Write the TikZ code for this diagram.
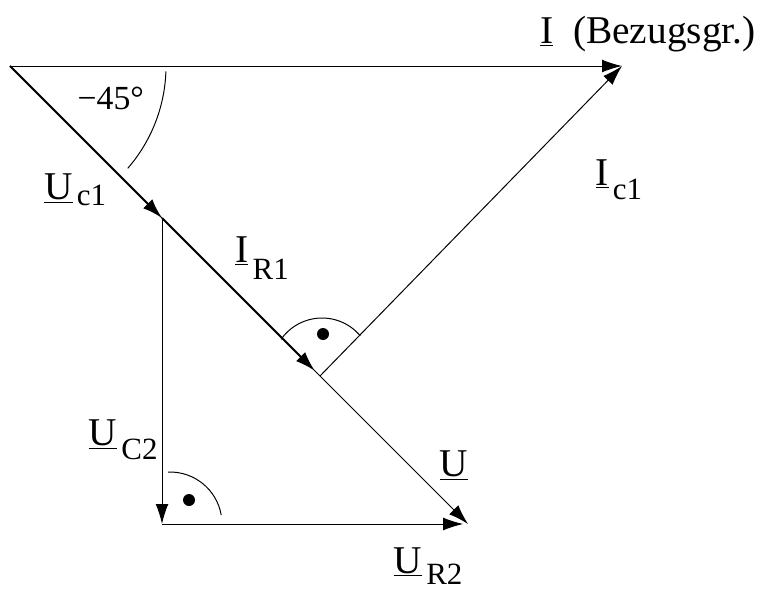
\documentclass[tikz,border=0pt]{standalone}
\usepackage{fontspec}
\setmainfont{Liberation Serif}
\usetikzlibrary{arrows.meta}
\newcommand\ph[3]{\underline{#1}\kern3pt\raisebox{-#3}{\fontsize{22}{22}\selectfont #2}}
\tikzset{
  vec/.style={-{Latex[length=5mm,width=3.2mm]},line width=0.7pt},
  vecthick/.style={vec,line width=1.4pt},
  lab/.style={font=\fontsize{28}{30}\selectfont,inner sep=0pt}
}
\begin{document}
\begin{tikzpicture}
  \useasboundingbox (-0.25,1.65) rectangle (18.95,-13.275);
  \coordinate (O) at (0,0);
  \coordinate (P) at (15.3,0);
  \coordinate (A) at (3.8,-3.8);
  \coordinate (B) at (7.62,-7.62);
  \coordinate (F) at (7.75,-7.75);
  \coordinate (Q) at (11.45,-11.45);
  \coordinate (C) at (3.8,-11.45);
  \coordinate (R) at (11.33,-11.45);
  % Zeiger
  \draw[vec] (O) -- (P);
  \draw[vec] (O) -- (Q);
  \draw[vecthick] (O) -- (A);
  \draw[vecthick] (A) -- (B);
  \draw[vec] (F) -- (P);
  \draw[vec] (A) -- (C);
  \draw[vec] (C) -- (R);
  % Winkel
  \draw[line width=0.7pt] (O) ++(-2:3.9) arc[start angle=-2,end angle=-41,radius=3.9];
  \draw[line width=0.7pt] (7.8,-7.55) ++(40:1.25) arc[start angle=40,end angle=145,radius=1.25];
  \fill (7.825,-6.7) circle (0.15);
  \draw[line width=0.7pt] (4.0,-11.45) ++(10:1.3) arc[start angle=10,end angle=92,radius=1.3];
  \fill (4.475,-10.85) circle (0.15);
  % Beschriftung
  \node[lab] (lI) at (15.95,0.8) {\underline{I}\ \ (Bezugsgr.)};
  \node[lab,font=\fontsize{24}{26}\selectfont] (lphi) at (2.52,-0.8) {\textminus45°};
  \node[lab] (lUc1) at (1.63,-3.1) {\ph{U}{c1}{4pt}};
  \node[lab] (lIR1) at (6.3,-4.8) {\ph{I}{R1}{12pt}};
  \node[lab] (lIc1) at (15.22,-2.85) {\ph{I}{c1}{10pt}};
  \node[lab] (lUC2) at (2.83,-9.35) {\ph{U}{C2}{10pt}};
  \node[lab] (lU) at (11.1,-9.98) {\underline{U}};
  \node[lab] (lUR2) at (10.45,-12.5) {\ph{U}{R2}{8pt}};
\end{tikzpicture}
\end{document}
